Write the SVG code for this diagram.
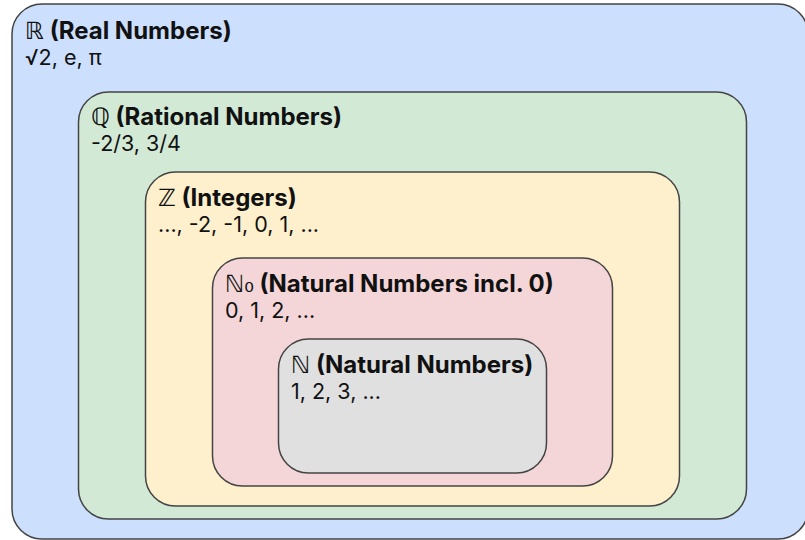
<svg xmlns="http://www.w3.org/2000/svg" width="805" height="540" viewBox="0 0 805 540">
<style>
.box{stroke:#444;stroke-width:1.5}
.t{font-family:Inter,"Liberation Sans",sans-serif;font-weight:700;font-size:24px;fill:#111}
.s{font-family:Inter,"Liberation Sans",sans-serif;font-size:21.5px;fill:#111}
.ds{font-family:"DejaVu Sans",sans-serif;font-weight:400}
</style>
<rect width="805" height="540" fill="#ffffff"/>
<g id="real">
<rect class="box" x="12" y="4" width="796" height="535" rx="30" fill="#cce0fd"/>
<text class="t" x="25" y="39"><tspan class="ds">ℝ</tspan> (Real Numbers)</text>
<text class="s" x="25" y="65">√2, e, π</text>
</g>
<g id="rational">
<rect class="box" x="78.5" y="92" width="668" height="427" rx="30" fill="#d2e9d6"/>
<text class="t" x="91" y="125"><tspan class="ds">ℚ</tspan> (Rational Numbers)</text>
<text class="s" x="91" y="151">-2/3, 3/4</text>
</g>
<g id="integers">
<rect class="box" x="145.5" y="172" width="534" height="334" rx="30" fill="#fff0cd"/>
<text class="t" x="158" y="206"><tspan class="ds">ℤ</tspan> (Integers)</text>
<text class="s" x="158" y="232">..., -2, -1, 0, 1, ...</text>
</g>
<g id="naturals0">
<rect class="box" x="212.5" y="258" width="400" height="228" rx="30" fill="#f4d6d8"/>
<text class="t" x="225" y="292"><tspan class="ds">ℕ₀</tspan> (Natural Numbers incl. 0)</text>
<text class="s" x="225" y="318">0, 1, 2, ...</text>
</g>
<g id="naturals">
<rect class="box" x="278.5" y="339" width="268" height="134" rx="30" fill="#e0e0e0"/>
<text class="t" x="291" y="373"><tspan class="ds">ℕ</tspan> (Natural Numbers)</text>
<text class="s" x="291" y="399">1, 2, 3, ...</text>
</g>
<g id="connectors"></g>
</svg>
